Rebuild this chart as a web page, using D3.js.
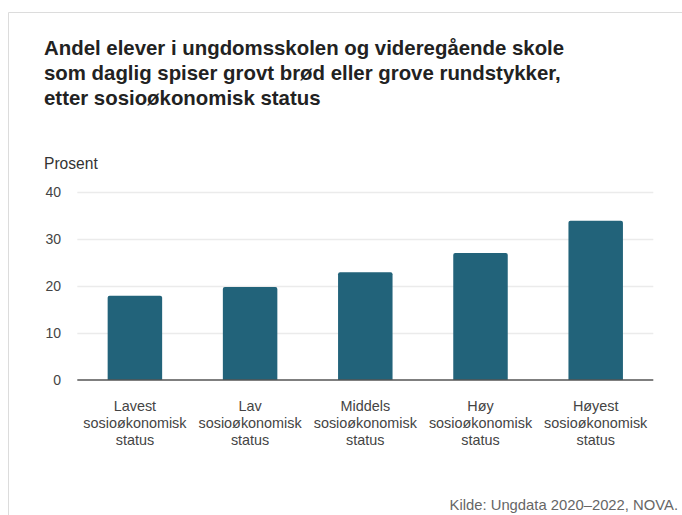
<!DOCTYPE html>
<html>
<head>
<meta charset="utf-8">
<script src="https://cdn.jsdelivr.net/npm/d3@7"></script>
<style>
  html, body { margin: 0; padding: 0; background: #fff; }
  svg { display: block; font-family: "Liberation Sans", Arial, sans-serif; }
</style>
</head>
<body>
<svg id="chart" width="682" height="515"></svg>
<script>
// Share of pupils eating wholegrain bread daily, by socioeconomic status
const categories = [
  ["Lavest", "sosioøkonomisk", "status"],
  ["Lav", "sosioøkonomisk", "status"],
  ["Middels", "sosioøkonomisk", "status"],
  ["Høy", "sosioøkonomisk", "status"],
  ["Høyest", "sosioøkonomisk", "status"]
];
const values = [17.9, 19.8, 22.9, 27.0, 33.9];
const yTicks = [0, 10, 20, 30, 40];
const titleLines = [
  "Andel elever i ungdomsskolen og videregående skole",
  "som daglig spiser grovt brød eller grove rundstykker,",
  "etter sosioøkonomisk status"
];
const yLabel = "Prosent";
const source = "Kilde: Ungdata 2020–2022, NOVA.";

const svg = d3.select("#chart");
const W = 682, H = 515;
const m = { left: 77.3, right: 653.3, top: 192, bottom: 380 };

// frame lines (top and left)
svg.append("line").attr("x1", 8.5).attr("x2", W).attr("y1", 12.5).attr("y2", 12.5)
  .attr("stroke", "#dcdcdc").attr("stroke-width", 1);
svg.append("line").attr("x1", 8.5).attr("x2", 8.5).attr("y1", 12.5).attr("y2", H)
  .attr("stroke", "#dcdcdc").attr("stroke-width", 1);

// title
svg.append("g").selectAll("text").data(titleLines).join("text")
  .attr("x", 44).attr("y", (d, i) => 55 + i * 25)
  .attr("font-size", 20.4).attr("font-weight", "bold").attr("fill", "#222")
  .text(d => d);

const x = d3.scaleBand().domain(d3.range(categories.length))
  .range([m.left, m.right]).paddingInner(0.527).paddingOuter(0.2635);
const y = d3.scaleLinear().domain([0, 40]).range([m.bottom, m.top]);

// gridlines
svg.append("g").selectAll("line").data(yTicks.filter(t => t > 0)).join("line")
  .attr("x1", m.left).attr("x2", m.right)
  .attr("y1", d => Math.round(y(d)) + 0.5).attr("y2", d => Math.round(y(d)) + 0.5)
  .attr("stroke", "#ebebeb").attr("stroke-width", 1.3);

// y tick labels
svg.append("g").selectAll("text").data(yTicks).join("text")
  .attr("x", 61).attr("y", d => y(d) + 5)
  .attr("text-anchor", "end").attr("font-size", 14).attr("fill", "#444")
  .text(d => d);

svg.append("text").attr("x", 44).attr("y", 169)
  .attr("font-size", 15.6).attr("fill", "#333").text(yLabel);

// bars with slightly rounded tops
const r = 2;
svg.append("g").selectAll("path").data(values).join("path")
  .attr("fill", "#22637a")
  .attr("d", (v, i) => {
    const x0 = x(i), x1 = x(i) + x.bandwidth(), y0 = y(v), yb = y(0);
    return `M${x0},${yb}V${y0 + r}Q${x0},${y0} ${x0 + r},${y0}H${x1 - r}Q${x1},${y0} ${x1},${y0 + r}V${yb}Z`;
  });

// baseline
svg.append("line").attr("x1", m.left).attr("x2", m.right)
  .attr("y1", y(0)).attr("y2", y(0)).attr("stroke", "#555").attr("stroke-width", 1.5);

// category labels
const cat = svg.append("g").selectAll("text").data(categories).join("text")
  .attr("text-anchor", "middle").attr("font-size", 14.4).attr("fill", "#444");
cat.selectAll("tspan").data((d, i) => d.map(s => ({ s, i }))).join("tspan")
  .attr("x", d => x(d.i) + x.bandwidth() / 2)
  .attr("y", (d, j) => 411 + j * 17)
  .text(d => d.s);

// source
svg.append("text").attr("x", 678).attr("y", 510)
  .attr("text-anchor", "end").attr("font-size", 14.8).attr("fill", "#666").text(source);
</script>
</body>
</html>
